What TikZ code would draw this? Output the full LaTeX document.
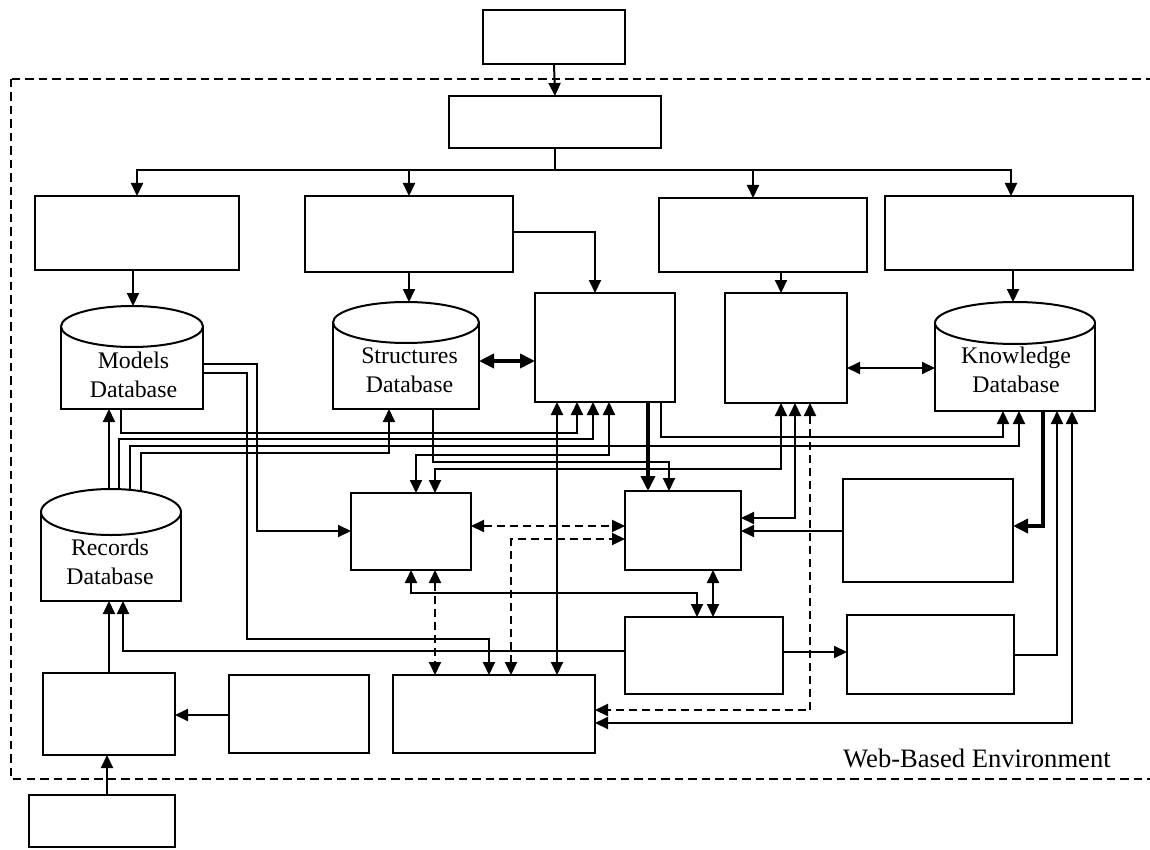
\documentclass[tikz,border=0pt]{standalone}
\usepackage{fontspec}
\setmainfont{Liberation Serif}
\usetikzlibrary{arrows.meta,calc}
\newcommand{\dbdraw}[3]{%
  \draw[line width=2pt] ($(#1.north west)+(0,#2)$) -- (#1.south west) -- (#1.south east) -- ($(#1.north east)+(0,#2)$);
  \draw[line width=2pt] ($(#1.north)+(0,#2)$) ellipse [x radius=#3pt, y radius=#2pt];
}
\tikzset{
  box/.style={draw, line width=2pt, rectangle, inner sep=0pt, outer sep=0pt},
  dbbox/.style={rectangle, inner sep=0pt, outer sep=0pt},
  dbtext/.style={align=center, inner sep=0pt, font=\fontsize{23.8}{29}\selectfont},
  conn/.style={line width=2pt},
  thickconn/.style={line width=3.6pt},
  dashedconn/.style={dash pattern=on 8pt off 5pt},
  onearrow/.style={-{Triangle[length=13pt,width=12pt]}},
  twoarrow/.style={{Triangle[length=13pt,width=12pt]}-{Triangle[length=13pt,width=12pt]}},
  onearrowthick/.style={-{Triangle[length=15pt,width=14pt]}},
  twoarrowthick/.style={{Triangle[length=15pt,width=14pt]}-{Triangle[length=15pt,width=14pt]}},
  frame/.style={line width=2pt, dash pattern=on 8.5pt off 5pt},
}
\begin{document}
\begin{tikzpicture}[x=1pt,y=-1pt]
\useasboundingbox (0,0) rectangle (1150,850);
% environment frame
\draw[frame] (11,79) rectangle (1165,779);
\node[anchor=base west, inner sep=0pt, font=\fontsize{26.6}{31}\selectfont] (env) at (843,767) {Web-Based Environment};

% boxes
\node[box, minimum width=142pt, minimum height=54pt] (T0) at (554,37) {};
\node[box, minimum width=212pt, minimum height=52pt] (T1) at (555,122) {};
\node[box, minimum width=204pt, minimum height=74pt] (B1) at (137,233) {};
\node[box, minimum width=208pt, minimum height=76pt] (B2) at (409,234) {};
\node[box, minimum width=208pt, minimum height=74pt] (B3) at (763,235) {};
\node[box, minimum width=248pt, minimum height=74pt] (B4) at (1009,233) {};
\node[box, minimum width=140pt, minimum height=109pt] (C1) at (605,347.5) {};
\node[box, minimum width=122pt, minimum height=110pt] (C2) at (786,348) {};
\node[box, minimum width=120pt, minimum height=77pt] (M1) at (411,531.5) {};
\node[box, minimum width=116pt, minimum height=79pt] (M2) at (683,530.5) {};
\node[box, minimum width=170pt, minimum height=103pt] (R1) at (928,530.5) {};
\node[box, minimum width=158pt, minimum height=77pt] (M3) at (704,655.5) {};
\node[box, minimum width=167pt, minimum height=79pt] (R2) at (930.5,654.5) {};
\node[box, minimum width=132pt, minimum height=82pt] (L1) at (109,714) {};
\node[box, minimum width=140pt, minimum height=78pt] (L2) at (299,714) {};
\node[box, minimum width=202pt, minimum height=78pt] (M4) at (494,714) {};
\node[box, minimum width=146pt, minimum height=52pt] (BB) at (102,821) {};

% databases
\node[dbbox, minimum width=142pt, minimum height=103pt] (MDB) at (132,357.5) {};
\node[dbbox, minimum width=146pt, minimum height=107pt] (SDB) at (406,355.5) {};
\node[dbbox, minimum width=160pt, minimum height=109pt] (KDB) at (1015,356.5) {};
\node[dbbox, minimum width=140pt, minimum height=112pt] (RDB) at (111,545) {};
\dbdraw{MDB}{20.5}{71}
\dbdraw{SDB}{20.5}{73}
\dbdraw{KDB}{21}{80}
\dbdraw{RDB}{23}{70}
\node[dbtext] (MDBt) at (133.5,374.5) {Models\\Database};
\node[dbtext] (SDBt) at (409.5,370) {Structures\\Database};
\node[dbtext] (KDBt) at (1016,370) {Knowledge\\Database};
\node[dbtext] (RDBt) at (110,561.5) {Records\\Database};

% top distribution
\draw[conn,onearrow] (T0.south) -- (T1.north);
\coordinate (bus) at (555,170);
\draw[conn] (T1.south) -- (bus);
\draw[conn,onearrow] (bus) -| (137,0 |- B1.north);
\draw[conn,onearrow] (bus) -| (1011,0 |- B4.north);
\draw[conn,onearrow] (409,0 |- bus) -- (409,0 |- B2.north);
\draw[conn,onearrow] (753,0 |- bus) -- (753,0 |- B3.north);

% row 1 to row 2
\draw[conn,onearrow] (133,0 |- B1.south) -- (133,0 |- MDB.north);
\draw[conn,onearrow] (409,0 |- B2.south) -- (409,0 |- SDB.north);
\draw[conn,onearrow] (B2.east |- 0,232) -| (595,0 |- C1.north);
\draw[thickconn,twoarrowthick] (SDB.east |- 0,361) -- (C1.west |- 0,361);
\draw[conn,onearrow] (781,0 |- B3.south) -- (781,0 |- C2.north);
\draw[conn,twoarrow] (C2.east |- 0,368) -- (KDB.west |- 0,368);
\draw[conn,onearrow] (1013,0 |- B4.south) -- (1013,0 |- KDB.north);

% models database
\draw[conn,onearrow] (MDB.east |- 0,364) -| (257,531) -- (M1.west |- 0,531);
\draw[conn,onearrow] (MDB.east |- 0,373) -| (247,639) -| (489,0 |- M4.north);
\draw[conn,onearrow] (121,0 |- MDB.south) |- (577,433) -- (577,0 |- C1.south);

% records database
\draw[conn,onearrow] (109,0 |- RDB.north) -- (109,0 |- MDB.south);
\draw[conn,onearrow] (119,0 |- RDB.north) |- (593,439) -- (593,0 |- C1.south);
\draw[conn,onearrow] ($(130,0 |- RDB.north)+(0,1)$) |- (1019,446) -- (1019,0 |- KDB.south);
\draw[conn,onearrow] ($(141,0 |- RDB.north)+(0,2.2)$) |- (389,453) -- (389,0 |- SDB.south);

% middle web
\draw[conn,twoarrow] (416,0 |- M1.north) |- (609,455) -- (609,0 |- C1.south);
\draw[conn,onearrow] (433,0 |- SDB.south) |- (669,462) -- (669,0 |- M2.north);
\draw[conn,twoarrow] (781,0 |- C2.south) |- (435,469) -- (435,0 |- M1.north);
\draw[thickconn,onearrowthick] (648,0 |- C1.south) -- (648,0 |- M2.north);
\draw[conn,onearrow] (661,0 |- C1.south) |- (1003,437) -- (1003,0 |- KDB.south);
\draw[conn,twoarrow] (795,0 |- C2.south) |- (M2.east |- 0,518);
\draw[conn,dashedconn,twoarrow] (810,0 |- C2.south) |- (M4.east |- 0,710);
\draw[conn,twoarrow] (1072,0 |- KDB.south) |- (M4.east |- 0,723);
\draw[thickconn,onearrowthick] (1043,0 |- KDB.south) |- (R1.east |- 0,526);
\draw[conn,onearrow] (R2.east |- 0,655) -| (1057,0 |- KDB.south);
\draw[conn,onearrow] (R1.west |- 0,531) -- (M2.east |- 0,531);
\draw[conn,twoarrow] (713,0 |- M2.south) -- (713,0 |- M3.north);
\draw[conn,twoarrow] (411,0 |- M1.south) |- (697,593) -- (697,0 |- M3.north);
\draw[conn,onearrow] (M3.east |- 0,652) -- (R2.west |- 0,652);
\draw[conn,onearrow] (M3.west |- 0,651) -| (123,0 |- RDB.south);
\draw[conn,dashedconn,twoarrow] (435,0 |- M1.south) -- (435,0 |- M4.north);
\draw[conn,dashedconn,twoarrow] (M1.east |- 0,526) -- (M2.west |- 0,526);
\draw[conn,dashedconn,twoarrow] (511,0 |- M4.north) |- (M2.west |- 0,539);
\draw[conn,twoarrow] (557,0 |- C1.south) -- (557,0 |- M4.north);

% bottom left
\draw[conn,onearrow] (L2.west |- 0,715) -- (L1.east |- 0,715);
\draw[conn,onearrow] (109,0 |- L1.north) -- (109,0 |- RDB.south);
\draw[conn,onearrow] (107,0 |- BB.north) -- (107,0 |- L1.south);
\end{tikzpicture}
\end{document}
